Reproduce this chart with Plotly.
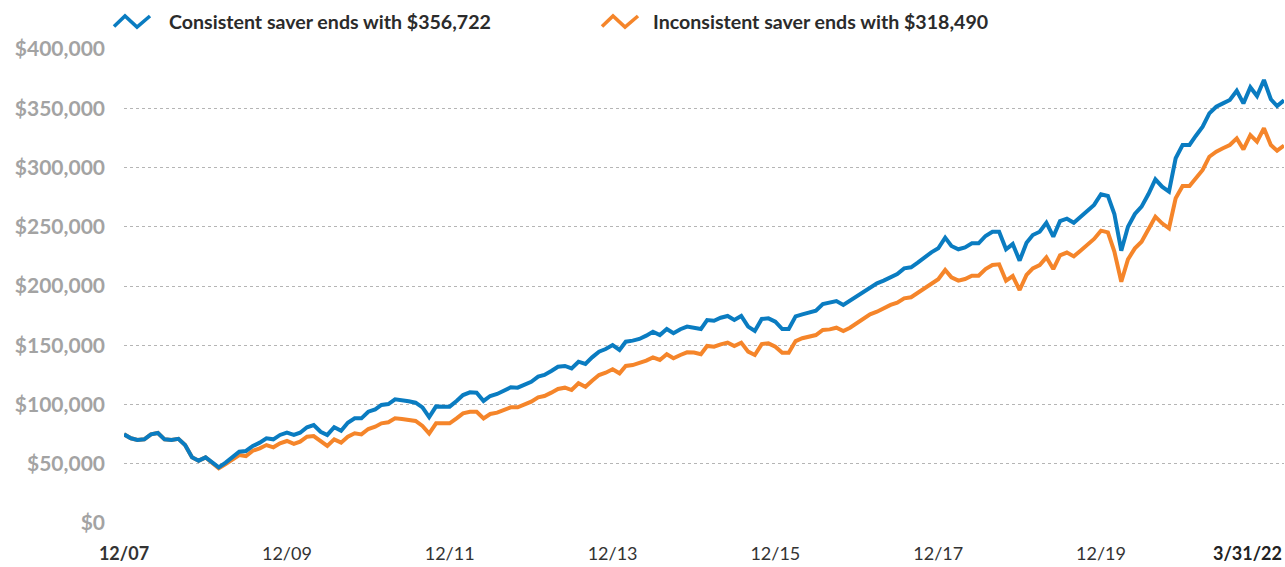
import pandas as pd
import plotly.graph_objects as go

# ---------------- data (thousands of dollars, month-end values) ----------------
consistent_k = [
    74.8, 71.5, 70.0, 70.6, 74.8, 76.0, 70.6, 70.0, 71.0, 65.8, 55.4, 52.6,
    55.4, 50.9, 47.0, 51.0, 56.0, 60.2, 60.8, 65.0, 67.8, 71.5, 70.6, 74.3,
    76.2, 74.3, 76.2, 80.8, 82.7, 77.0, 74.3, 80.8, 77.9, 84.6, 88.3, 88.3,
    93.9, 95.9, 99.6, 100.4, 104.4, 103.8, 102.8, 101.5, 97.5, 89.3, 98.4, 98.2,
    98.2, 103.0, 108.0, 110.3, 110.0, 103.0, 107.2, 108.9, 111.7, 114.5, 114.2, 116.5,
    119.2, 123.5, 124.9, 128.3, 131.9, 132.5, 130.5, 136.1, 134.2, 139.8, 144.6, 146.8,
    150.2, 146.0, 153.0, 153.9, 155.3, 158.1, 161.4, 158.6, 163.7, 160.1, 163.5, 165.7,
    164.8, 163.7, 171.3, 170.7, 173.2, 174.7, 171.3, 174.7, 165.7, 162.0, 172.2, 172.7,
    169.9, 163.7, 163.8, 174.4, 176.1, 177.8, 179.2, 184.8, 185.9, 187.3, 184.0, 187.6,
    191.6, 195.2, 199.4, 202.3, 204.5, 207.8, 210.1, 214.9, 215.8, 219.7, 224.2, 228.4,
    231.8, 240.8, 233.8, 231.0, 232.6, 236.0, 236.0, 242.2, 245.8, 245.8, 231.0, 235.4,
    221.4, 236.5, 243.0, 245.8, 253.4, 241.6, 254.7, 256.8, 253.4, 258.5, 263.5, 268.4,
    277.4, 276.0, 260.8, 229.8, 250.0, 260.8, 267.0, 277.6, 290.0, 283.8, 279.6, 307.8,
    319.0, 319.0, 326.6, 334.4, 345.7, 351.3, 354.1, 357.0, 364.8, 354.1, 367.7, 360.3,
    373.8, 357.6, 351.9, 356.722,
]

inconsistent_k = [
    74.8, 71.5, 70.0, 70.6, 74.8, 76.0, 70.6, 70.0, 71.0, 65.8, 55.4, 52.6,
    55.4, 50.9, 46.2, 49.8, 53.7, 57.4, 56.5, 61.0, 63.0, 65.8, 63.9, 67.3,
    69.2, 66.7, 68.6, 72.8, 73.4, 68.6, 65.0, 70.6, 67.8, 72.8, 75.7, 74.8,
    79.3, 81.3, 84.1, 85.0, 88.3, 87.8, 86.9, 86.1, 81.9, 75.5, 84.1, 84.1,
    84.1, 88.3, 92.5, 93.9, 93.9, 88.3, 92.0, 93.1, 95.4, 97.6, 97.6, 99.6,
    102.4, 106.1, 107.2, 110.0, 113.1, 114.2, 112.2, 117.9, 115.0, 120.1, 124.9, 126.8,
    129.7, 126.3, 132.5, 133.3, 134.8, 137.0, 139.8, 137.6, 142.4, 139.0, 141.8, 144.0,
    143.8, 142.4, 149.4, 148.8, 150.8, 152.2, 149.4, 152.2, 144.6, 141.8, 151.0, 151.6,
    148.8, 143.7, 143.7, 153.5, 155.9, 157.2, 158.6, 162.9, 163.4, 164.8, 162.0, 164.8,
    168.5, 171.9, 176.1, 178.3, 181.2, 184.0, 185.9, 189.6, 190.5, 194.3, 198.1, 202.3,
    205.7, 213.5, 207.3, 204.5, 205.9, 208.7, 208.7, 214.3, 217.7, 218.3, 204.5, 208.4,
    196.6, 209.3, 214.9, 217.7, 224.2, 214.3, 225.8, 228.2, 225.0, 229.8, 234.6, 239.7,
    246.7, 245.3, 229.0, 203.6, 222.5, 231.8, 237.4, 247.8, 258.5, 252.9, 248.7, 274.0,
    284.4, 284.4, 290.9, 297.9, 309.1, 313.3, 316.2, 319.0, 324.6, 315.3, 327.4, 321.8,
    333.1, 319.0, 314.2, 318.49,
]

series_names = ["Consistent saver ends with $356,722",
                "Inconsistent saver ends with $318,490"]
tick_dates = ["2007-12-31", "2009-12-31", "2011-12-31", "2013-12-31",
              "2015-12-31", "2017-12-31", "2019-12-31"]
tick_labels = ["<b>12/07</b>", "12/09", "12/11", "12/13", "12/15", "12/17", "12/19"]
end_label = "3/31/22"

dates = pd.date_range("2007-12-31", periods=len(consistent_k), freq="ME")
consistent = [v * 1000 for v in consistent_k]
inconsistent = [v * 1000 for v in inconsistent_k]

BLUE = "#0a7cc1"
ORANGE = "#f5852a"
FONT = "Lato"

W, H = 1285, 567
ML, MR, MT, MB = 124, 1, 49, 44
PW, PH = W - ML - MR, H - MT - MB


def px(xp):
    return (xp - ML) / PW


def py(yp):
    return (H - MB - yp) / PH


fig = go.Figure()
# orange first so the blue line sits on top where they coincide
fig.add_trace(go.Scatter(x=dates, y=inconsistent, mode="lines", name=series_names[1],
                         line=dict(color=ORANGE, width=4), showlegend=False))
fig.add_trace(go.Scatter(x=dates, y=consistent, mode="lines", name=series_names[0],
                         line=dict(color=BLUE, width=4), showlegend=False))

# legend: chevron icons + labels
shapes = []
annotations = []
for x0, tx, color, name in [(114, 167, BLUE, series_names[0]),
                            (602, 651, ORANGE, series_names[1])]:
    pts = [(x0, 26.5), (x0 + 11, 16), (x0 + 23, 27), (x0 + 36, 16)]
    path = "M " + " L ".join(f"{px(a):.5f},{py(b):.5f}" for a, b in pts)
    shapes.append(dict(type="path", xref="paper", yref="paper", path=path,
                       line=dict(color=color, width=3.6)))
    annotations.append(dict(xref="paper", yref="paper", x=px(tx), y=py(21),
                            xanchor="left", yanchor="middle", showarrow=False,
                            text=f"<b>{name}</b>",
                            font=dict(family=FONT, size=19.6, color="#2b2b2b")))

annotations.append(dict(xref="x", yref="paper", x=dates[-1], y=py(553),
                        xanchor="right", yanchor="middle", showarrow=False,
                        text=f"<b>{end_label}</b>",
                        font=dict(family=FONT, size=18, color="#222222")))

fig.update_layout(
    width=W, height=H,
    margin=dict(l=ML, r=MR, t=MT, b=MB, pad=0),
    paper_bgcolor="white", plot_bgcolor="white",
    font=dict(family=FONT),
    shapes=shapes, annotations=annotations,
    showlegend=False,
    hovermode="x unified",
)
fig.update_xaxes(
    range=[dates[0], dates[-1]],
    tickvals=tick_dates, ticktext=tick_labels,
    showgrid=False, zeroline=False, showline=False, ticks="",
    ticklabelstandoff=18,
    tickfont=dict(family=FONT, size=18, color="#333333"),
)
fig.update_yaxes(
    range=[0, 400000], dtick=50000, tickprefix="$", tickformat=",",
    showgrid=True, gridcolor="#b5b5b5", gridwidth=1, griddash="dot",
    zeroline=False, showline=False, ticks="",
    ticklabelstandoff=18,
    tickfont=dict(family=FONT, size=21, color="#a3a3a3", weight="bold"),
)

fig.write_html("out.html",
               config={"displayModeBar": False},
               post_script="document.body.style.margin='0';"
                           "document.body.style.overflow='hidden';")
